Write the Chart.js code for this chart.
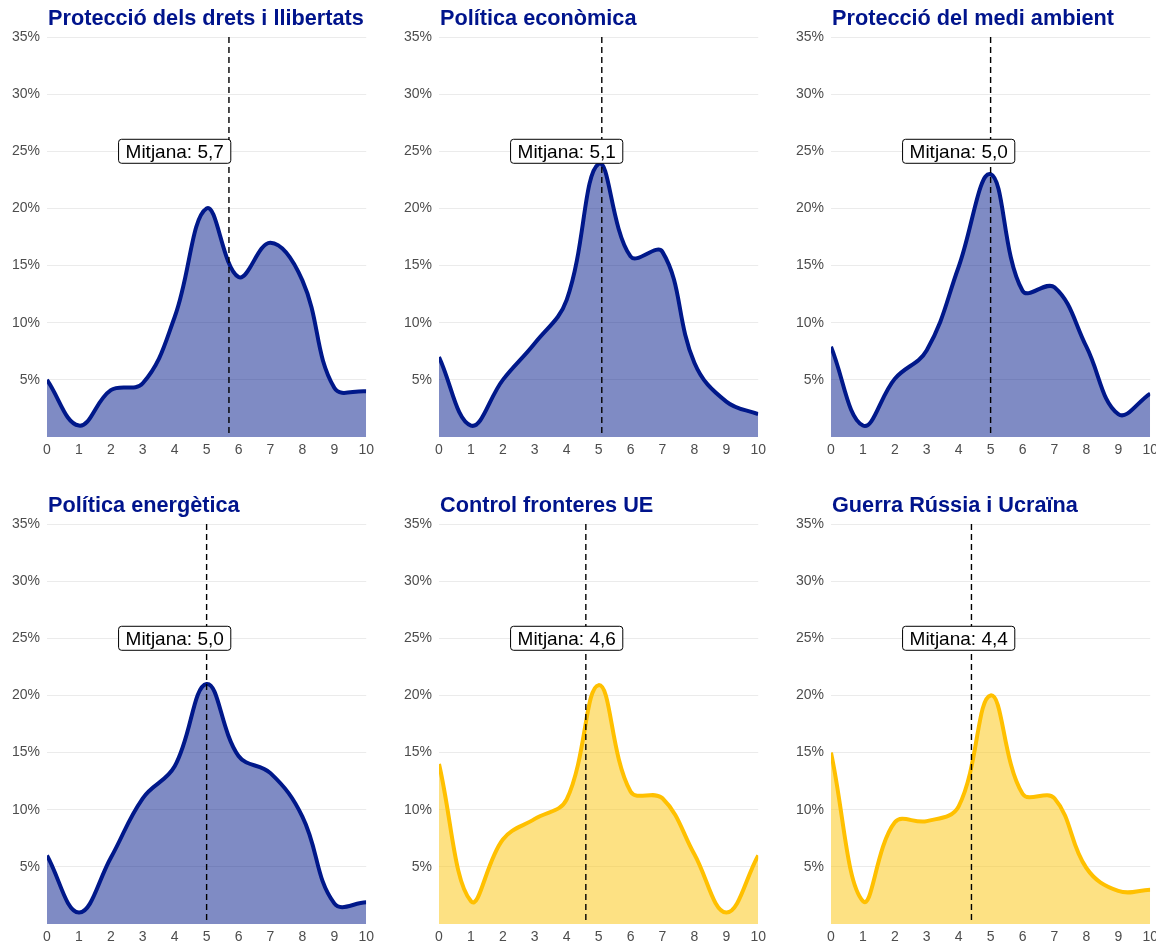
<!DOCTYPE html>
<html>
<head>
<meta charset="utf-8">
<script src="https://cdn.jsdelivr.net/npm/chart.js@4/dist/chart.umd.min.js"></script>
<style>
  body { margin: 0; background: #fff; }
  .panel { position: absolute; width: 379px; height: 459px; }
</style>
</head>
<body>
<div class="panel" style="left:0px;top:0px"><canvas id="c0"></canvas></div>
<div class="panel" style="left:392px;top:0px"><canvas id="c1"></canvas></div>
<div class="panel" style="left:784px;top:0px"><canvas id="c2"></canvas></div>
<div class="panel" style="left:0px;top:487px"><canvas id="c3"></canvas></div>
<div class="panel" style="left:392px;top:487px"><canvas id="c4"></canvas></div>
<div class="panel" style="left:784px;top:487px"><canvas id="c5"></canvas></div>
<script>
// valoracions 0-10, percentatge de respostes
const puntuacions = [0, 1, 2, 3, 4, 5, 6, 7, 8, 9, 10];
const yTicks = [5, 10, 15, 20, 25, 30, 35];

const drets      = [5.0, 1.0, 4.1, 4.7, 10.5, 20.0, 14.0, 17.0, 13.7, 4.3, 4.0];
const economica  = [7.0, 1.0, 5.0, 8.2, 12.0, 23.9, 15.8, 16.2, 6.5, 3.1, 2.0];
const medi       = [7.9, 1.0, 5.1, 7.6, 14.9, 23.0, 12.8, 13.1, 7.9, 2.0, 3.8];
const energetica = [6.0, 1.0, 5.8, 11.0, 13.8, 21.0, 14.7, 13.2, 9.4, 1.8, 1.9];
const fronteres  = [14.0, 2.0, 7.4, 9.2, 10.9, 20.9, 11.6, 11.0, 6.1, 1.0, 6.0];
const guerra     = [15.0, 2.0, 8.9, 9.0, 10.3, 20.0, 11.4, 11.0, 4.9, 2.9, 3.0];

const titols = ['Protecció dels drets i llibertats', 'Política econòmica', 'Protecció del medi ambient',
                'Política energètica', 'Control fronteres UE', 'Guerra Rússia i Ucraïna'];
const mitjanes = [5.7, 5.1, 5.0, 5.0, 4.6, 4.4];
const series = [drets, economica, medi, energetica, fronteres, guerra];

const blau = '#00188a', blauFons = 'rgba(0, 24, 138, 0.5)';
const groc = '#ffc000', grocFons = 'rgba(252, 200, 30, 0.55)';
const colorsLinia = [blau, blau, blau, blau, groc, groc];
const colorsFons = [blauFons, blauFons, blauFons, blauFons, grocFons, grocFons];

const fontBase = '"Liberation Sans", Arial, sans-serif';

// titol, linia de la mitjana i etiqueta
const extres = {
  id: 'extres',
  afterDatasetsDraw(chart, args, opts) {
    const ctx = chart.ctx, area = chart.chartArea;
    const xs = chart.scales.x, ys = chart.scales.y;
    const xm = xs.getPixelForValue(opts.mitjana);
    ctx.save();
    ctx.strokeStyle = '#000';
    ctx.lineWidth = 1.4;
    ctx.setLineDash([6, 4]);
    ctx.beginPath();
    ctx.moveTo(xm, ys.getPixelForValue(35));
    ctx.lineTo(xm, area.bottom);
    ctx.stroke();
    ctx.setLineDash([]);

    const text = 'Mitjana: ' + opts.mitjana.toFixed(1).replace('.', ',');
    ctx.font = '19px ' + fontBase;
    const w = ctx.measureText(text).width + 14, h = 24;
    const cx = xs.getPixelForValue(4), cy = ys.getPixelForValue(25);
    ctx.beginPath();
    ctx.roundRect(cx - w / 2, cy - h / 2, w, h, 3);
    ctx.fillStyle = '#fff';
    ctx.fill();
    ctx.lineWidth = 1;
    ctx.strokeStyle = '#000';
    ctx.stroke();
    ctx.fillStyle = '#000';
    ctx.textAlign = 'center';
    ctx.textBaseline = 'middle';
    ctx.fillText(text, cx, cy + 1);

    ctx.font = 'bold 21.7px ' + fontBase;
    ctx.fillStyle = '#00148c';
    ctx.textAlign = 'left';
    ctx.textBaseline = 'alphabetic';
    ctx.fillText(opts.titol, area.left + 1, 24.5);
    ctx.restore();
  }
};

series.forEach(function (vals, i) {
  new Chart(document.getElementById('c' + i), {
    type: 'line',
    data: {
      datasets: [{
        data: puntuacions.map((p, k) => ({ x: p, y: vals[k] })),
        borderColor: colorsLinia[i],
        backgroundColor: colorsFons[i],
        borderWidth: 4,
        fill: 'origin',
        tension: 0.4,
        pointRadius: 0
      }]
    },
    options: {
      responsive: true,
      maintainAspectRatio: false,
      animation: false,
      layout: { padding: { top: 37, right: 0, left: 0, bottom: 0 } },
      plugins: {
        legend: { display: false },
        tooltip: { enabled: false },
        extres: { mitjana: mitjanes[i], titol: titols[i] }
      },
      scales: {
        x: {
          type: 'linear', min: 0, max: 10,
          grid: { display: false, drawTicks: false },
          border: { display: false },
          ticks: { stepSize: 1, padding: 5, color: '#4d4d4d', font: { size: 14, family: fontBase } },
          afterFit(s) { s.height = 22; }
        },
        y: {
          min: 0, max: 35,
          afterBuildTicks(s) { s.ticks = [0].concat(yTicks).map(v => ({ value: v })); },
          grid: { color: c => c.tick.value === 0 ? 'rgba(0,0,0,0)' : '#ebebeb', drawTicks: false },
          border: { display: false },
          ticks: { padding: 7, color: '#4d4d4d', font: { size: 14, family: fontBase },
                   callback: v => v === 0 ? '' : v + '%' },
          afterFit(s) { s.width = 47; }
        }
      }
    },
    plugins: [extres]
  });
});
</script>
</body>
</html>
